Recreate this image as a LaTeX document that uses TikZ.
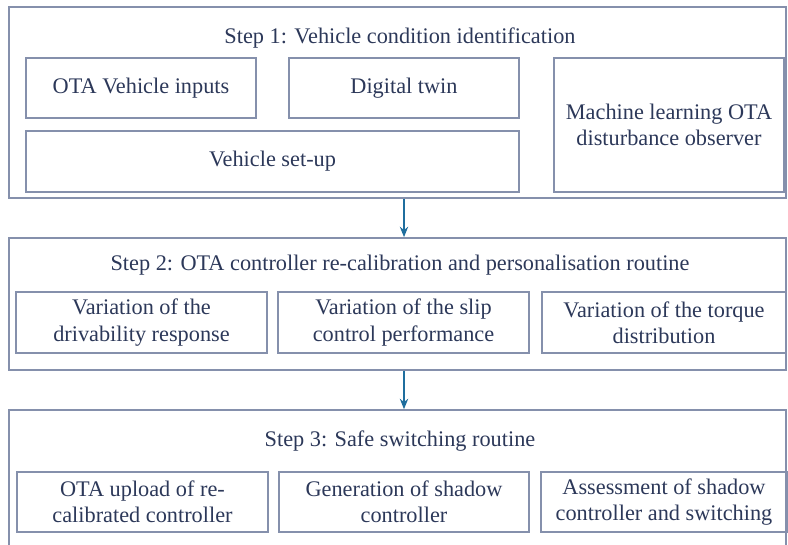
\documentclass[tikz,border=0pt]{standalone}
\usepackage{fontspec}
\setmainfont{Liberation Serif}
\usepackage{xcolor}
\usetikzlibrary{arrows.meta}

\definecolor{boxline}{HTML}{8590AC}
\definecolor{boxtext}{HTML}{2C3859}
\definecolor{arrowblue}{HTML}{1F6E9E}

\begin{document}
\begin{tikzpicture}[x = 0.48pt, y = -0.48pt,
		every node/.style = {inner sep = 0pt, font = \fontsize{10.7}{12.6}\selectfont, text = boxtext},
		stepframe/.style = {draw = boxline, line width = 0.8pt},
		taskbox/.style = {draw = boxline, line width = 0.7pt, align = center},
		steptitle/.style = {},
		flow/.style = {draw = arrowblue, line width = 0.9pt, -{Stealth[length = 5pt, width = 4pt]}}]

	\useasboundingbox (0,0) rectangle (788,544);
	\clip (0,0) rectangle (788,544);

	% outer frames
	\node [stepframe, minimum width = 373pt, minimum height = 91.7pt] (s1) at (397.5,102.5) {};
	\node [stepframe, minimum width = 373pt, minimum height = 63.4pt] (s2) at (397.5,304) {};
	\node [stepframe, minimum width = 373pt, minimum height = 72pt] (s3) at (397.5,485) {};

	% step 1
	\node [steptitle] (t1) at (400,38) {Step 1: Vehicle condition identification};
	\node [taskbox, minimum width = 110.4pt, minimum height = 28.8pt] (inputs) at (141,88) {OTA Vehicle inputs};
	\node [taskbox, minimum width = 110.4pt, minimum height = 28.8pt] (twin) at (404,88) {Digital twin};
	\node [taskbox, minimum width = 236.6pt, minimum height = 29.3pt] (setup) at (272.5,161.5) {Vehicle set-up};
	\node [taskbox, minimum width = 110.4pt, minimum height = 64.3pt] (observer) at (669,125) {Machine learning OTA\\disturbance observer};

	% step 2
	\node [steptitle] (t2) at (400,265) {Step 2: OTA controller re-calibration and personalisation routine};
	\node [taskbox, minimum width = 120.5pt, minimum height = 29.3pt] (drive) at (141.5,322.5) {Variation of the\\drivability response};
	\node [taskbox, minimum width = 120.5pt, minimum height = 29.3pt] (slip) at (403.5,322.5) {Variation of the slip\\control performance};
	\node [taskbox, minimum width = 117.1pt, minimum height = 29.3pt] (torque) at (664,322.5) {Variation of the torque\\distribution};

	% step 3
	\node [steptitle] (t3) at (400,441) {Step 3: Safe switching routine};
	\node [taskbox, minimum width = 120.5pt, minimum height = 28.8pt] (upload) at (142.5,502) {OTA upload of re-\\calibrated controller};
	\node [taskbox, minimum width = 120pt, minimum height = 28.8pt] (shadow) at (404,502) {Generation of shadow\\controller};
	\node [taskbox, minimum width = 118pt, minimum height = 28.8pt] (assess) at (664,502) {Assessment of shadow\\controller and switching};

	% connectors
	\draw [flow] (twin.south |- s1.south) -- (twin.south |- s2.north);
	\draw [flow] (twin.south |- s2.south) -- (twin.south |- s3.north);
\end{tikzpicture}
\end{document}
